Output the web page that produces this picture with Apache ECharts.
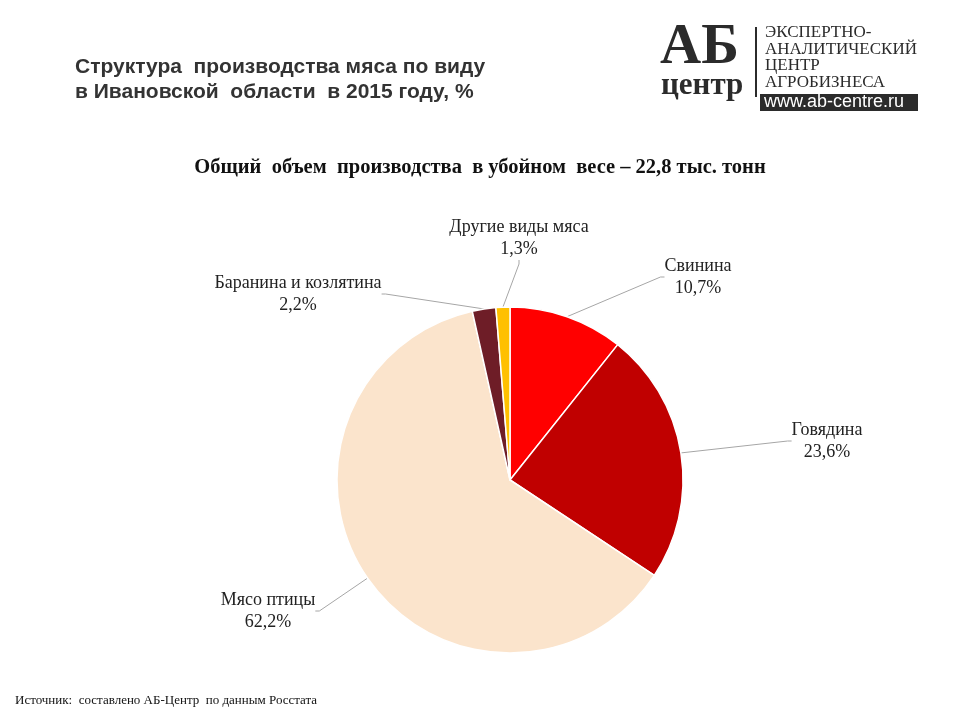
<!DOCTYPE html>
<html><head><meta charset="utf-8">
<script src="https://cdn.jsdelivr.net/npm/echarts@6/dist/echarts.min.js"></script>
<style>html,body{margin:0;padding:0;background:#fff}#c{width:960px;height:720px}</style>
</head><body><div id="c"></div>
<script>
var categories = ['Свинина', 'Говядина', 'Мясо птицы', 'Баранина и козлятина', 'Другие виды мяса'];
var values = [10.7, 23.6, 62.2, 2.2, 1.3];
var colors = ['#FF0000', '#C00000', '#FBE4CC', '#6E1D27', '#FFC000'];
var labelPos = [[698, 277], [827, 441], [268, 611], [298, 294], [519, 238]];

var chart = echarts.init(document.getElementById('c'));
var serif = '"Liberation Serif", "Times New Roman", serif';
var sans = '"Liberation Sans", Arial, sans-serif';
chart.setOption({
  animation: false,
  title: [
    { text: 'Структура  производства мяса по виду\nв Ивановской  области  в 2015 году, %', left: 75, top: 55, padding: 0,
      textStyle: { fontFamily: sans, fontSize: 21, fontWeight: 'bold', color: '#333', lineHeight: 25 } },
    { text: 'Общий  объем  производства  в убойном  весе – 22,8 тыс. тонн', left: 'center', top: 157, padding: 0,
      textStyle: { fontFamily: serif, fontSize: 20.5, fontWeight: 'bold', color: '#111' } },
    { text: 'Источник:  составлено АБ-Центр  по данным Росстата', left: 15, top: 694, padding: 0,
      textStyle: { fontFamily: serif, fontSize: 13, fontWeight: 'normal', color: '#111' } }
  ],
  graphic: [
    { type: 'text', left: 660, top: 20, style: { text: 'АБ', font: 'bold 57px "Liberation Serif", serif', fill: '#2b2b2b' } },
    { type: 'text', left: 661, top: 70, style: { text: 'центр', font: 'bold 31px "Liberation Serif", serif', fill: '#2b2b2b' } },
    { type: 'rect', shape: { x: 755, y: 27, width: 2, height: 70 }, style: { fill: '#2b2b2b' } },
    { type: 'text', left: 765, top: 24, style: { text: 'ЭКСПЕРТНО-\nАНАЛИТИЧЕСКИЙ\nЦЕНТР\nАГРОБИЗНЕСА', font: '17px "Liberation Serif", serif', fill: '#2b2b2b', lineHeight: 16.7 } },
    { type: 'rect', shape: { x: 760, y: 94, width: 158, height: 17 }, style: { fill: '#2b2b2b' } },
    { type: 'text', left: 764, top: 93, style: { text: 'www.ab-centre.ru', font: '18px "Liberation Sans", sans-serif', fill: '#fff' } }
  ],
  series: [{
    type: 'pie',
    center: [510, 480],
    radius: 173,
    startAngle: 90,
    clockwise: true,
    avoidLabelOverlap: false,
    data: categories.map(function (c, i) {
      return { name: c, value: values[i], itemStyle: { color: colors[i] } };
    }),
    itemStyle: { borderColor: '#fff', borderWidth: 1.5 },
    label: {
      show: true,
      position: 'outside',
      fontFamily: serif,
      fontSize: 18,
      color: '#222',
      lineHeight: 22,
      align: 'center',
      formatter: function (p) { return p.name + '\n' + String(p.value).replace('.', ',') + '%'; }
    },
    labelLine: { show: true, lineStyle: { color: '#a6a6a6', width: 1 }, length: 10, length2: 4 },
    labelLayout: function (p) {
      var pos = labelPos[p.dataIndex];
      return { x: pos[0], y: pos[1], align: 'center', verticalAlign: 'middle' };
    }
  }]
});
</script></body></html>
